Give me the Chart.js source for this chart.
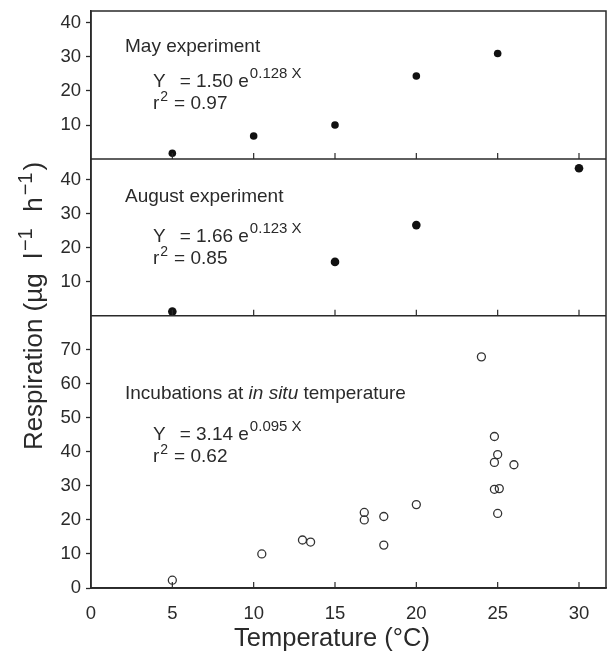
<!DOCTYPE html>
<html>
<head>
<meta charset="utf-8">
<script src="https://cdn.jsdelivr.net/npm/chart.js@4"></script>
<style>
  html, body { margin: 0; padding: 0; background: #fff; }
  #wrap { width: 614px; height: 656px; }
</style>
</head>
<body>
<div id="wrap"><canvas id="myChart" width="614" height="656"></canvas></div>
<script>
// May experiment (filled dots)
const mayTemp = [5, 10, 15, 20, 25]
const mayResp = [1.7, 6.8, 10, 24.4, 31]

// August experiment (filled dots)
const augTemp = [5, 15, 20, 30]
const augResp = [1.2, 15.8, 26.6, 43.3]

// incubations at in situ temperature (open circles)
const situTemp = [5, 10.5, 13, 13.5, 16.8, 16.8, 18, 18, 20, 24, 24.8, 25, 24.8, 26, 24.8, 25.1, 25]
const situResp = [2.3, 10, 14.1, 13.5, 22.2, 20, 21, 12.6, 24.5, 67.9, 44.5, 39.2, 36.9, 36.2, 29, 29.2, 21.9]

const xTicks = [0, 5, 10, 15, 20, 25, 30]
const mayTicks = [10, 20, 30, 40]
const augTicks = [10, 20, 30, 40]
const situTicks = [0, 10, 20, 30, 40, 50, 60, 70]

const panelText = [
  {axis: "yA", title: ["May experiment"], a: "1.50", b: "0.128", r: "0.97", t0: 41, eq: 35},
  {axis: "yB", title: ["August experiment"], a: "1.66", b: "0.123", r: "0.85", t0: 43, eq: 40},
  {axis: "yC", title: ["Incubations at ", "in situ", " temperature"], a: "3.14", b: "0.095", r: "0.62", t0: 83, eq: 41}
]

const ink = "#2a2a2a"
const fontFam = "'Liberation Sans', Arial, Helvetica, sans-serif"

function toPoints(xs, ys){
  return xs.map((x, i) => ({x: x, y: ys[i]}))
}

function keepTicks(list){
  return function(scale){
    scale.ticks = list.map(v => ({value: v}))
  }
}

function yAxis(weight, max, list){
  return {
    type: "linear",
    position: "left",
    stack: "panels",
    stackWeight: weight,
    min: 0,
    max: max,
    afterBuildTicks: keepTicks(list),
    afterFit: function(scale){
      scale.width = 91
      scale.paddingTop = 0
      scale.paddingBottom = 0
    },
    grid: {drawOnChartArea: false, tickLength: 5, tickColor: ink, tickWidth: 1.3},
    border: {display: true, color: ink, width: 1.5},
    ticks: {color: ink, padding: 5, autoSkip: false, font: {family: fontFam, size: 18.5}}
  }
}

// frame, panel separators, inner x ticks, titles and equations
const decor = {
  id: "decor",
  afterDraw(chart){
    const ctx = chart.ctx
    const area = chart.chartArea
    const x = chart.scales.x
    ctx.save()
    ctx.strokeStyle = ink
    ctx.lineWidth = 1.5
    ctx.strokeRect(area.left, area.top, area.right - area.left, area.bottom - area.top)
    ;["yA", "yB", "yC"].forEach(id => {
      const s = chart.scales[id]
      ctx.lineWidth = 1.5
      ctx.beginPath()
      ctx.moveTo(area.left, s.bottom)
      ctx.lineTo(area.right, s.bottom)
      ctx.stroke()
      ctx.lineWidth = 1.2
      xTicks.forEach(v => {
        if (v == 0) return
        const px = x.getPixelForValue(v)
        ctx.beginPath()
        ctx.moveTo(px, s.bottom)
        ctx.lineTo(px, s.bottom - 6)
        ctx.stroke()
      })
    })

    ctx.fillStyle = ink
    ctx.textBaseline = "alphabetic"
    panelText.forEach(p => {
      const s = chart.scales[p.axis]
      const l = area.left
      const top = s.top
      let tx = l + 34
      p.title.forEach((part, i) => {
        ctx.font = (i == 1 ? "italic " : "") + "19px " + fontFam
        ctx.fillText(part, tx, top + p.t0)
        tx += ctx.measureText(part).width
      })
      const ey = top + p.t0 + p.eq
      let ex = l + 62
      ctx.font = "19px " + fontFam
      ctx.fillText("Y", ex, ey)
      ex += ctx.measureText("Y").width + 14
      const main = "= " + p.a + " e"
      ctx.fillText(main, ex, ey)
      ex += ctx.measureText(main).width + 1
      ctx.font = "15px " + fontFam
      ctx.fillText(p.b + " X", ex, ey - 9)
      ctx.font = "19px " + fontFam
      let rx = l + 62
      const ry = ey + 22
      ctx.fillText("r", rx, ry)
      rx += ctx.measureText("r").width + 1
      ctx.font = "14px " + fontFam
      ctx.fillText("2", rx, ry - 8)
      rx += ctx.measureText("2").width + 6
      ctx.font = "19px " + fontFam
      ctx.fillText("= " + p.r, rx, ry)
    })

    // axis titles
    ctx.font = "25.5px " + fontFam
    ctx.textAlign = "center"
    ctx.fillText("Temperature (°C)", 332, 646)

    ctx.translate(33, 305)
    ctx.rotate(-Math.PI / 2)
    const parts = [["Respiration (µg  l", 26, 0], ["−1", 20, -10], ["  h", 26, 0], ["−1", 20, -10], [")", 26, 0]]
    let total = 0
    parts.forEach(q => { ctx.font = q[1] + "px " + fontFam; total += ctx.measureText(q[0]).width + 2 })
    ctx.textAlign = "left"
    let cx = -total / 2
    parts.forEach(q => {
      ctx.font = q[1] + "px " + fontFam
      ctx.fillText(q[0], cx, 9 + q[2])
      cx += ctx.measureText(q[0]).width + 2
    })
    ctx.restore()
  }
}

new Chart("myChart", {
  type: "scatter",
  data: {
    datasets: [
      {
        data: toPoints(situTemp, situResp),
        yAxisID: "yC",
        pointStyle: "circle",
        pointRadius: 4,
        pointBorderWidth: 1.3,
        borderColor: "#333",
        backgroundColor: "rgba(255,255,255,0)"
      },
      {
        data: toPoints(augTemp, augResp),
        yAxisID: "yB",
        pointRadius: 4.3,
        borderWidth: 0,
        backgroundColor: "#111"
      },
      {
        data: toPoints(mayTemp, mayResp),
        yAxisID: "yA",
        pointRadius: 3.8,
        borderWidth: 0,
        backgroundColor: "#111"
      }
    ]
  },
  options: {
    responsive: false,
    animation: false,
    events: [],
    layout: {padding: {left: 0, right: 8, top: 11, bottom: 0}},
    plugins: {legend: {display: false}, tooltip: {enabled: false}},
    scales: {
      x: {
        type: "linear",
        position: "bottom",
        min: 0,
        max: 31.66,
        afterBuildTicks: keepTicks(xTicks),
        afterFit: function(scale){ scale.height = 68 },
        grid: {display: false},
        border: {display: true, color: ink, width: 1.5},
        ticks: {color: ink, padding: 7, font: {family: fontFam, size: 18.5}}
      },
      yC: yAxis(80, 80, situTicks),
      yB: yAxis(46, 46, augTicks),
      yA: yAxis(43.5, 43.5, mayTicks)
    }
  },
  plugins: [decor]
})
</script>
</body>
</html>
